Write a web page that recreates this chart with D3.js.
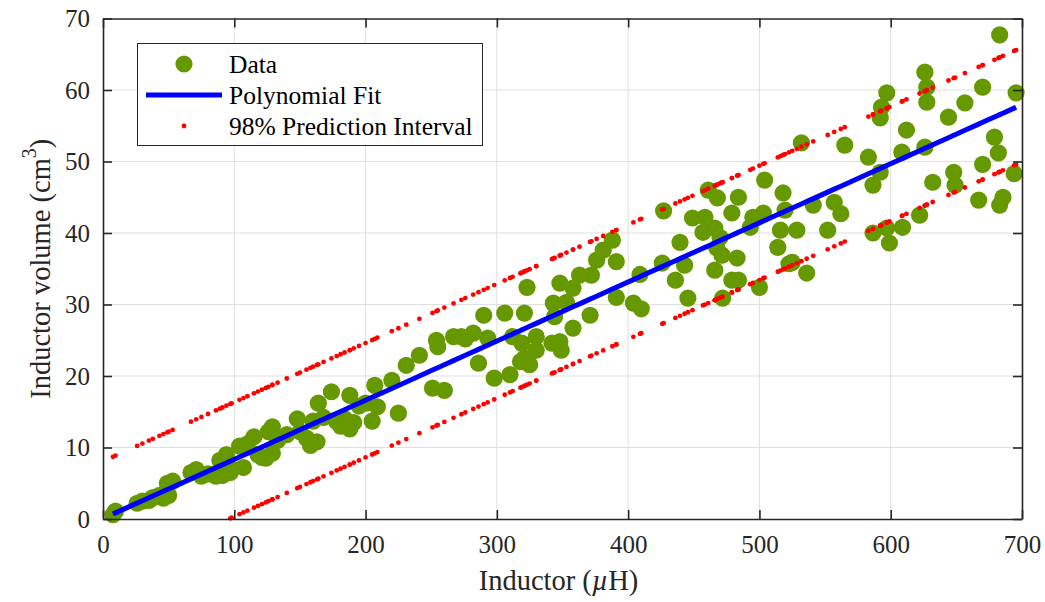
<!DOCTYPE html>
<html>
<head>
<meta charset="utf-8">
<script src="https://cdn.jsdelivr.net/npm/d3@7"></script>
<style>
  html, body { margin: 0; padding: 0; background: #fff; }
  svg { display: block; font-family: "Liberation Serif", "Times New Roman", serif; }
</style>
</head>
<body>
<svg id="chart" width="1045" height="602"></svg>
<script>
// Measured inductance (µH) and inductor volume (cm^3)
const inductance = [
  7.6, 9.5, 26, 30, 35, 38, 43, 46, 50, 49, 53, 67, 71, 75, 80, 86, 89, 91, 94, 98, 97,
  104, 107, 110, 115, 118, 121, 124, 126, 129, 129, 133, 140, 148, 150,
  155, 158, 160, 163, 164, 168, 174, 178, 181, 184, 188, 188, 191, 195, 200, 205, 207, 209,
  220, 225, 231, 241, 251, 254, 255, 260, 267, 273, 276, 282, 286, 290, 293,
  298, 306, 310, 312, 319, 318, 321, 321, 323, 325, 330, 330, 342, 343, 344, 348, 348, 349,
  353, 358, 358, 363, 371, 372, 376, 381, 388, 391, 391, 404, 409, 410,
  427, 426, 436, 439.5, 443, 445.5, 449, 457, 458.5, 461, 466, 467.5, 466, 468, 470, 471.5,
  472, 479, 479, 483, 484, 484, 493, 495, 500, 503, 504, 514, 516, 518, 519.5, 522.5, 525,
  528.5, 532, 536, 541, 552, 557, 562,
  565, 583, 586.5, 592, 586.5, 597, 599, 609, 592, 593, 597, 612, 608.5, 626, 627.5, 627.5,
  626, 622, 632, 644, 656.5, 648, 649, 667, 670, 670, 679, 682, 683, 685.5, 683, 695.5, 694
];
const volume = [
  0.6, 1.1, 2.2, 2.5, 2.6, 3.0, 3.3, 2.9, 3.3, 5.0, 5.3, 6.5, 6.9, 6.0, 6.3, 6.0, 8.2, 6.1, 9.0, 7.0, 6.5,
  10.2, 7.2, 10.5, 11.5, 9.0, 8.6, 8.5, 12.2, 12.9, 9.2, 11.0, 11.8, 14.0, 12.2,
  11.3, 10.3, 13.7, 10.8, 16.2, 14.2, 17.8, 13.6, 13.0, 14.0, 17.3, 12.6, 13.5, 15.8, 16.2, 13.7, 18.7, 15.7,
  19.4, 14.8, 21.5, 22.9, 18.3, 25.0, 24.1, 18.0, 25.5, 25.5, 25.2, 26.0, 21.8, 28.5, 25.3,
  19.7, 28.8, 20.2, 25.5, 24.6, 22.0, 28.8, 22.5, 32.4, 21.6, 25.5, 23.6, 24.6, 30.2, 28.3, 33.0, 24.8, 23.6,
  30.3, 32.3, 26.7, 34.1, 28.5, 34.1, 36.2, 37.6, 39.0, 36.0, 31.0, 30.2, 34.2, 29.4,
  43.1, 35.8, 33.4, 38.7, 35.5, 30.9, 42.1, 40.1, 42.2, 46.0, 40.7, 37.9, 34.8, 44.9, 39.4, 36.9,
  30.9, 42.8, 33.4, 36.5, 45.0, 33.4, 40.8, 42.2, 32.4, 42.8, 47.4, 38.0, 40.4, 45.6, 43.2, 35.7, 35.9,
  40.4, 52.6, 34.4, 43.9, 40.4, 44.3, 42.7,
  52.3, 50.6, 46.7, 48.5, 40.0, 40.7, 38.6, 40.8, 56.1, 57.6, 59.6, 54.4, 51.3, 62.5, 60.4, 58.3,
  52.0, 42.5, 47.1, 56.2, 58.2, 48.5, 46.7, 44.6, 60.4, 49.6, 53.4, 51.2, 67.7, 45.0, 43.9, 59.6, 48.3
];

// Fitted polynomial (intercept, slope) and 98% prediction half-width
const fitCoefficients = [0.07, 0.0827];
const predictionHalfWidth = [8.0];

const xTicks = [0, 100, 200, 300, 400, 500, 600, 700];
const yTicks = [0, 10, 20, 30, 40, 50, 60, 70];
const legendLabels = ["Data", "Polynomial Fit", "98% Prediction Interval"];

(function draw() {
  const svg = d3.select("#chart");
  const W = 1045, H = 602;
  const pl = 103, pr = 1022, pt = 18.5, pb = 519;
  const serif = "'Liberation Serif', 'Times New Roman', serif";

  svg.append("rect").attr("width", W).attr("height", H).attr("fill", "#fff");

  const x = d3.scaleLinear().domain([0, 700]).range([pl, pr]);
  const y = d3.scaleLinear().domain([0, 70]).range([pb, pt]);

  // grid
  const grid = svg.append("g").attr("stroke", "#dfdfdf").attr("stroke-width", 1);
  grid.selectAll(".gx").data(xTicks.slice(1, -1)).join("line")
    .attr("x1", d => x(d)).attr("x2", d => x(d)).attr("y1", pt).attr("y2", pb);
  grid.selectAll(".gy").data(yTicks.slice(1, -1)).join("line")
    .attr("y1", d => y(d)).attr("y2", d => y(d)).attr("x1", pl).attr("x2", pr);

  const points = inductance.map((v, i) => ({ x: v, y: volume[i] }));
  const sortedX = inductance.slice().sort((a, b) => a - b);
  const fitAt = v => fitCoefficients[0] + fitCoefficients[1] * v;

  // data markers
  svg.append("g").selectAll("circle").data(points).join("circle")
    .attr("cx", d => x(d.x)).attr("cy", d => y(d.y)).attr("r", 8.6)
    .attr("fill", "#669900");

  // fit line
  svg.append("path")
    .datum(sortedX)
    .attr("fill", "none").attr("stroke", "#0000ff").attr("stroke-width", 5)
    .attr("d", d3.line().x(d => x(d)).y(d => y(fitAt(d))));

  // prediction interval bounds, evaluated at each measured inductance
  const bounds = [];
  sortedX.forEach(v => {
    bounds.push({ x: v, y: fitAt(v) + predictionHalfWidth[0] });
    bounds.push({ x: v, y: fitAt(v) - predictionHalfWidth[0] });
  });
  svg.append("g").selectAll("circle").data(bounds.filter(d => d.y >= 0 && d.y <= 70)).join("circle")
    .attr("cx", d => x(d.x)).attr("cy", d => y(d.y)).attr("r", 2.4)
    .attr("fill", "#ff0000");

  // axes (ticks inside, on all four sides)
  const tickLen = 9;
  const axisColor = "#262626";
  function styleAxis(g) {
    g.attr("font-family", serif);
    g.select(".domain").attr("stroke", axisColor).attr("stroke-width", 1.6);
    g.selectAll(".tick line").attr("stroke", axisColor).attr("stroke-width", 1.6);
    g.selectAll(".tick text").attr("fill", "#262626").style("font-size", "25px")
      .style("font-family", serif);
  }
  svg.append("g").attr("transform", `translate(0,${pb})`)
    .call(d3.axisBottom(x).tickValues(xTicks).tickSizeInner(-tickLen).tickSizeOuter(0).tickPadding(16).tickFormat(d3.format("d")))
    .call(styleAxis);
  svg.append("g").attr("transform", `translate(0,${pt})`)
    .call(d3.axisTop(x).tickValues(xTicks).tickSizeInner(-tickLen).tickSizeOuter(0).tickFormat(""))
    .call(styleAxis);
  svg.append("g").attr("transform", `translate(${pl},0)`)
    .call(d3.axisLeft(y).tickValues(yTicks).tickSizeInner(-tickLen).tickSizeOuter(0).tickPadding(13).tickFormat(d3.format("d")))
    .call(styleAxis);
  svg.append("g").attr("transform", `translate(${pr},0)`)
    .call(d3.axisRight(y).tickValues(yTicks).tickSizeInner(-tickLen).tickSizeOuter(0).tickFormat(""))
    .call(styleAxis);

  // axis titles
  const xTitle = svg.append("text")
    .attr("x", (pl + pr) / 2 - 4).attr("y", 590)
    .attr("text-anchor", "middle").attr("fill", "#262626")
    .style("font-family", serif).style("font-size", "28.5px");
  xTitle.append("tspan").text("Inductor (");
  xTitle.append("tspan").attr("font-style", "italic").text("µ");
  xTitle.append("tspan").text("H)");

  const yTitle = svg.append("text")
    .attr("transform", `translate(50,${(pt + pb) / 2}) rotate(-90)`)
    .attr("text-anchor", "middle").attr("fill", "#262626")
    .style("font-family", serif).style("font-size", "28.5px");
  yTitle.append("tspan").text("Inductor volume (cm");
  yTitle.append("tspan").attr("dy", -14).style("font-size", "20px").text("3");
  yTitle.append("tspan").attr("dy", 14).text(")");

  // legend
  const lg = svg.append("g");
  lg.append("rect").attr("x", 137.5).attr("y", 43.5).attr("width", 345).attr("height", 102)
    .attr("fill", "#fff").attr("stroke", "#262626").attr("stroke-width", 1);
  const rowY = [64, 95, 126];
  lg.append("circle").attr("cx", 184).attr("cy", rowY[0]).attr("r", 8.6).attr("fill", "#669900");
  lg.append("line").attr("x1", 146).attr("x2", 222).attr("y1", rowY[1]).attr("y2", rowY[1])
    .attr("stroke", "#0000ff").attr("stroke-width", 5);
  lg.append("circle").attr("cx", 184).attr("cy", rowY[2]).attr("r", 2.4).attr("fill", "#ff0000");
  lg.selectAll("text.lbl").data(legendLabels).join("text")
    .attr("x", 229).attr("y", (d, i) => rowY[i] + 8.5)
    .attr("fill", "#000").style("font-family", serif).style("font-size", "25.5px").text(d => d);
})();
</script>
</body>
</html>
